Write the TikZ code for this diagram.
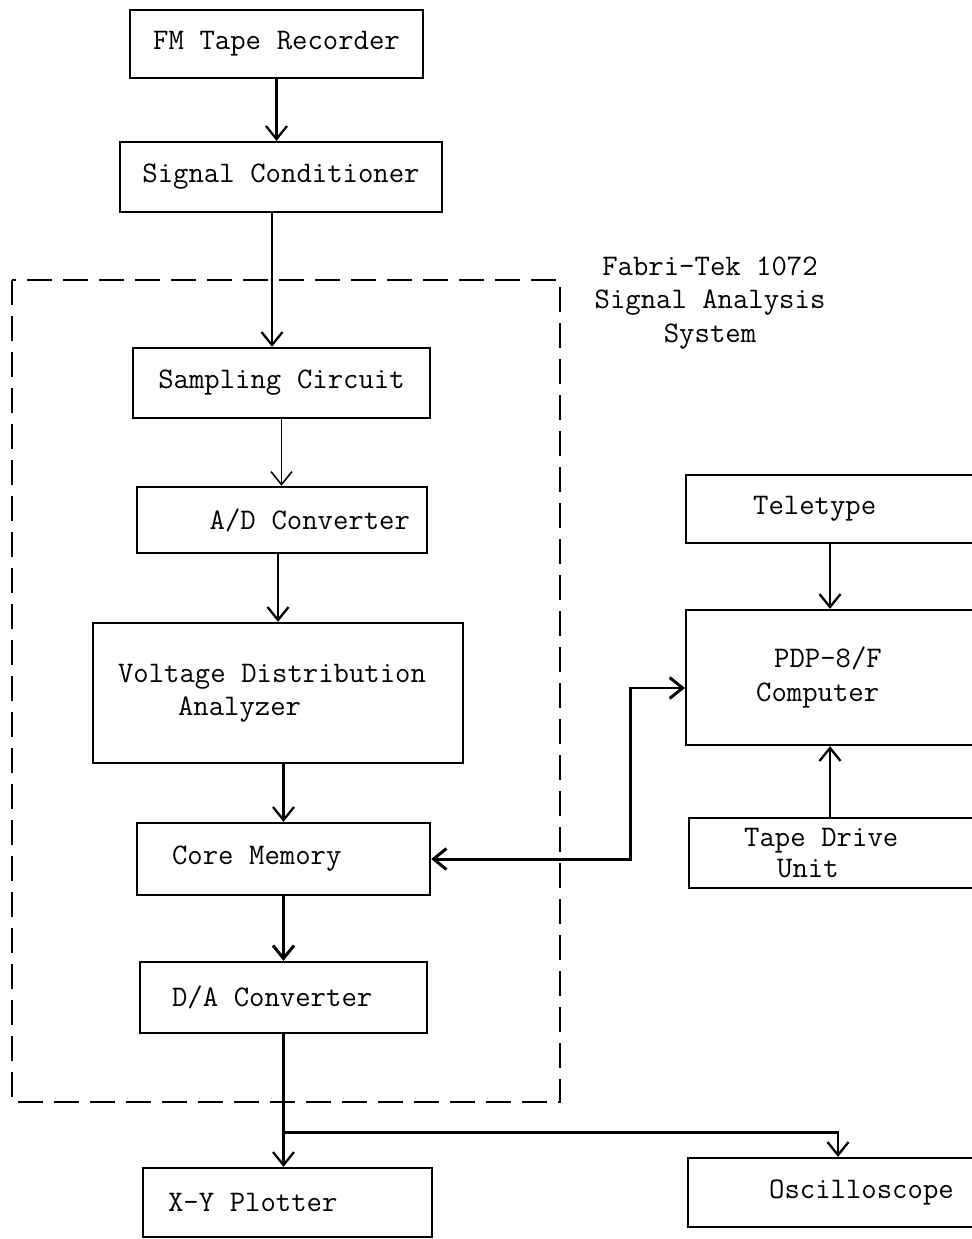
\documentclass[tikz,border=0pt]{standalone}
\usepackage{tikz}
\usetikzlibrary{arrows.meta,positioning,calc}

\begin{document}
\begin{tikzpicture}[
        font=\fontsize{17}{19}\selectfont\ttfamily,
        >={Straight Barb[length=2.6mm,width=4.2mm]},
        % Block styles
        block/.style={
            rectangle,
            draw=black,
            line width=1.3pt,
            inner ysep=0pt,
            align=center,
            execute at begin node={\spaceskip=0.525em\xspaceskip=0.525em\relax}
        },
        arrow/.style={->, line width=1.3pt},
        thinarrow/.style={->, line width=0.9pt},
        bigarrow/.style={->, line width=1.7pt},
        frame/.style={draw=black, line width=1.2pt, dash pattern=on 0.5cm off 0.22cm},
        caption/.style={align=center}
    ]
    \useasboundingbox (0,0) rectangle (19.44,-24.78);

    % Recorder and conditioning
    \node[block, minimum width=5.86cm, minimum height=1.36cm] (fmrec) at (5.53,-0.88) {FM Tape Recorder};
    \node[block, minimum width=6.44cm, minimum height=1.40cm] (cond) at (5.62,-3.54) {Signal Conditioner};

    % Signal analysis system
    \draw[frame] (0.24,-5.60) rectangle (11.20,-22.04);
    \node[caption] (fabritek) at (14.20,-6.06) {Fabri-Tek 1072\\Signal Analysis\\System};
    \node[block, minimum width=5.94cm, minimum height=1.40cm] (sampler) at (5.63,-7.66) {Sampling Circuit};
    \node[block, minimum height=1.32cm, text width=5.12cm, inner xsep=0.34cm, align=flush right] (adc) at (5.64,-10.40) {A/D Converter};
    \node[block, minimum height=2.80cm, text width=6.40cm, inner xsep=0.50cm, align=flush left] (vda) at (5.56,-13.86) {Voltage Distribution\\\hspace*{1.2cm}Analyzer};
    \node[block, minimum height=1.44cm, text width=4.46cm, inner xsep=0.70cm, align=flush left] (core) at (5.67,-17.18) {Core Memory};
    \node[block, minimum height=1.42cm, text width=4.46cm, inner xsep=0.64cm, align=flush left] (dac) at (5.67,-19.95) {D/A Converter};

    % Outputs
    \node[block, minimum height=1.38cm, text width=4.78cm, inner xsep=0.50cm, align=flush left] (plotter) at (5.75,-24.05) {X-Y Plotter};
    \node[block, anchor=west, minimum height=1.38cm, text width=4.06cm, inner xsep=1.62cm, align=flush left] (scope) at (13.74,-23.85) {Oscilloscope};

    % Computer side
    \node[block, anchor=west, minimum height=1.36cm, text width=4.62cm, inner xsep=1.34cm, align=flush left] (tty) at (13.70,-10.18) {Teletype};
    \node[block, anchor=west, minimum height=2.70cm, text width=4.50cm, inner xsep=1.40cm, align=flush left] (pdp) at (13.70,-13.55) {\hspace*{0.36cm}PDP-8/F\\Computer};
    \node[block, anchor=west, minimum height=1.40cm, text width=5.10cm, inner xsep=1.10cm, align=flush left,
          font=\fontsize{17}{17.5}\selectfont\ttfamily] (drive) at (13.76,-17.06) {Tape Drive\\\hspace*{0.66cm}Unit};

    % Connections
    \draw[arrow] (fmrec.south) -- (fmrec.south |- cond.north);
    \draw[arrow] ([xshift=-0.18cm]cond.south) -- ([xshift=-0.18cm]cond.south |- sampler.north);
    \draw[thinarrow] (sampler.south) -- (sampler.south |- adc.north);
    \draw[arrow] (adc.south -| vda.north) -- (vda.north);
    \draw[arrow] (vda.south -| core.north) -- (core.north);
    \draw[bigarrow] (core.south) -- (dac.north);
    \draw[arrow] (dac.south) -- (dac.south |- plotter.north);
    \coordinate (split) at ($(dac.south)!0.74!(dac.south |- plotter.north)$);
    \draw[arrow] (split) -| ([xshift=3.02cm]scope.north west);

    \draw[arrow] ([xshift=2.9cm]tty.south west) -- ([xshift=2.9cm]pdp.north west);
    \draw[arrow] ([xshift=2.84cm]drive.north west) -- ([xshift=2.84cm]drive.north west |- pdp.south);

    \coordinate (jog) at (12.60,-13.76);
    \draw[bigarrow, <->] (core.east) -| (jog) -- (jog -| pdp.west);

\end{tikzpicture}
\end{document}
